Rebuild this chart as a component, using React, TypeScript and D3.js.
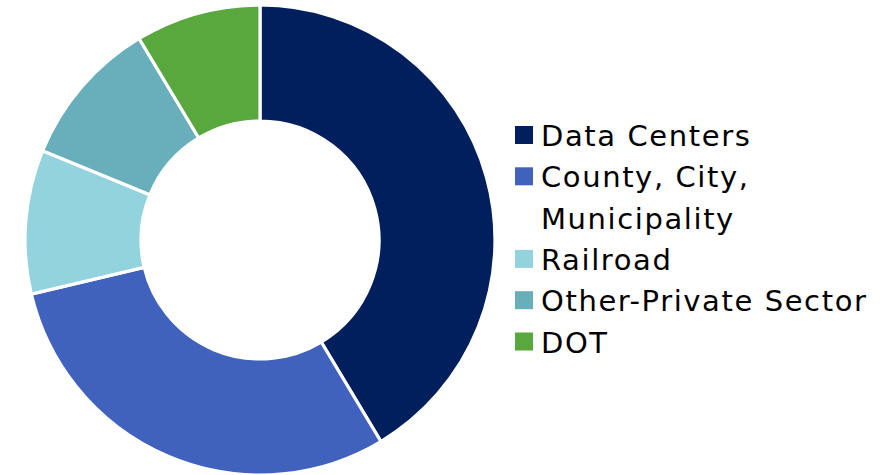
import React from "react";
import * as d3 from "d3";

const categories = ["Data Centers", "County, City, Municipality", "Railroad", "Other-Private Sector", "DOT"];
const legendLines = [["Data Centers"], ["County, City,", "Municipality"], ["Railroad"], ["Other-Private Sector"], ["DOT"]];
const values = [41.4, 29.9, 9.9, 10.2, 8.6];
const colors = ["#001F5C", "#4062BD", "#93D3DE", "#68AEBB", "#58A83E"];

export default function App() {
  const W = 893, H = 475;
  const cx = 260, cy = 240, outer = 235, inner = 119;
  const pie = d3.pie<number>().sort(null).value((d) => d)(values);
  const arc = d3.arc<d3.PieArcDatum<number>>().innerRadius(inner).outerRadius(outer);
  const fontSize = 29;
  const lineH = 41.3;
  const legendX = 515;
  let baseline = 146;
  const rows: { i: number; y: number }[] = [];
  legendLines.forEach((lines, i) => {
    rows.push({ i, y: baseline });
    baseline += lineH * lines.length;
  });
  return (
    <svg width={W} height={H} style={{ position: "absolute", left: 0, top: 0, background: "#fff" }}>
      <g transform={`translate(${cx},${cy})`}>
        {pie.map((p, i) => (
          <path key={categories[i]} d={arc(p) || ""} fill={colors[i]} stroke="#fff" strokeWidth={3.2} />
        ))}
      </g>
      <g fontFamily="Verdana, 'DejaVu Sans', sans-serif" fontSize={fontSize} fill="#000" letterSpacing={1.6}>
        {rows.map(({ i, y }) => (
          <g key={categories[i]}>
            <rect x={legendX} y={y - 20} width={18} height={18} fill={colors[i]} />
            {legendLines[i].map((t, k) => (
              <text key={k} x={541} y={y + k * lineH}>{t}</text>
            ))}
          </g>
        ))}
      </g>
    </svg>
  );
}
